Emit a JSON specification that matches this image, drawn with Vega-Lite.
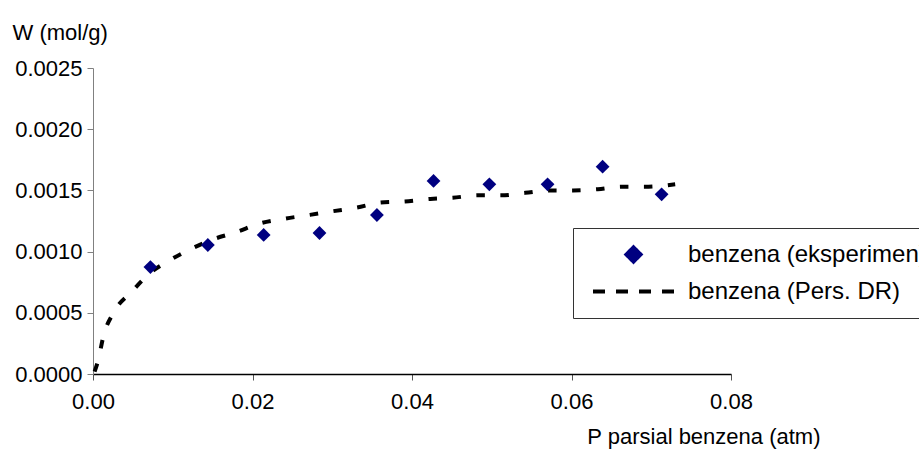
{
  "$schema": "https://vega.github.io/schema/vega-lite/v6.json",
  "width": 638,
  "height": 306,
  "autosize": {"type": "none"},
  "padding": {"left": 93, "top": 68, "right": 188, "bottom": 79},
  "background": "white",
  "config": {
    "view": {"stroke": null},
    "font": "Liberation Sans",
    "axis": {"labelFont": "Liberation Sans", "titleFont": "Liberation Sans", "labelColor": "black", "titleColor": "black", "grid": false, "titleFontWeight": "normal"},
    "legend": {"labelFont": "Liberation Sans"}
  },
  "datasets": {
    "points": [
      {"p": 0.0072, "w": 0.000874, "series": "benzena (eksperimen)"},
      {"p": 0.0144, "w": 0.001054, "series": "benzena (eksperimen)"},
      {"p": 0.0214, "w": 0.001136, "series": "benzena (eksperimen)"},
      {"p": 0.0284, "w": 0.001152, "series": "benzena (eksperimen)"},
      {"p": 0.0356, "w": 0.001299, "series": "benzena (eksperimen)"},
      {"p": 0.0427, "w": 0.001577, "series": "benzena (eksperimen)"},
      {"p": 0.0497, "w": 0.00155, "series": "benzena (eksperimen)"},
      {"p": 0.0570, "w": 0.00155, "series": "benzena (eksperimen)"},
      {"p": 0.0639, "w": 0.001694, "series": "benzena (eksperimen)"},
      {"p": 0.0713, "w": 0.001468, "series": "benzena (eksperimen)"}
    ],
    "curve": [
      {"p": 0.0002, "w": 0.00002, "series": "benzena (Pers. DR)"},
      {"p": 0.00066, "w": 0.000114, "series": "benzena (Pers. DR)"},
      {"p": 0.00129, "w": 0.000305, "series": "benzena (Pers. DR)"},
      {"p": 0.00255, "w": 0.000498, "series": "benzena (Pers. DR)"},
      {"p": 0.00485, "w": 0.000672, "series": "benzena (Pers. DR)"},
      {"p": 0.00715, "w": 0.000825, "series": "benzena (Pers. DR)"},
      {"p": 0.00966, "w": 0.000931, "series": "benzena (Pers. DR)"},
      {"p": 0.01254, "w": 0.00103, "series": "benzena (Pers. DR)"},
      {"p": 0.01505, "w": 0.0011, "series": "benzena (Pers. DR)"},
      {"p": 0.018, "w": 0.00116, "series": "benzena (Pers. DR)"},
      {"p": 0.0209, "w": 0.00123, "series": "benzena (Pers. DR)"},
      {"p": 0.0241, "w": 0.00127, "series": "benzena (Pers. DR)"},
      {"p": 0.0272, "w": 0.0013, "series": "benzena (Pers. DR)"},
      {"p": 0.0301, "w": 0.00133, "series": "benzena (Pers. DR)"},
      {"p": 0.0331, "w": 0.00136, "series": "benzena (Pers. DR)"},
      {"p": 0.036, "w": 0.0014, "series": "benzena (Pers. DR)"},
      {"p": 0.0391, "w": 0.00141, "series": "benzena (Pers. DR)"},
      {"p": 0.0423, "w": 0.00143, "series": "benzena (Pers. DR)"},
      {"p": 0.0451, "w": 0.00144, "series": "benzena (Pers. DR)"},
      {"p": 0.0483, "w": 0.00146, "series": "benzena (Pers. DR)"},
      {"p": 0.0512, "w": 0.00146, "series": "benzena (Pers. DR)"},
      {"p": 0.0542, "w": 0.00148, "series": "benzena (Pers. DR)"},
      {"p": 0.0571, "w": 0.0015, "series": "benzena (Pers. DR)"},
      {"p": 0.0602, "w": 0.0015, "series": "benzena (Pers. DR)"},
      {"p": 0.0633, "w": 0.00151, "series": "benzena (Pers. DR)"},
      {"p": 0.0663, "w": 0.00153, "series": "benzena (Pers. DR)"},
      {"p": 0.0692, "w": 0.00153, "series": "benzena (Pers. DR)"},
      {"p": 0.073, "w": 0.00155, "series": "benzena (Pers. DR)"}
    ]
  },
  "encoding": {
    "x": {
      "field": "p", "type": "quantitative",
      "scale": {"domain": [0, 0.08], "nice": false, "zero": false},
      "axis": {
        "values": [0, 0.02, 0.04, 0.06, 0.08], "format": ".2f",
        "domainColor": "black", "domainWidth": 1.5, "tickColor": "#555555", "tickSize": 6,
        "labelFontSize": 22, "labelPadding": 11, "labelFlush": false,
        "title": "P parsial benzena (atm)", "titleFontSize": 22,
        "titleAlign": "right", "titleAnchor": "start", "titleX": 727, "titleY": 69, "titleBaseline": "alphabetic"
      }
    },
    "y": {
      "field": "w", "type": "quantitative",
      "scale": {"domain": [0, 0.0025], "nice": false},
      "axis": {
        "values": [0, 0.0005, 0.001, 0.0015, 0.002, 0.0025], "format": ".4f",
        "domainColor": "#808080", "tickColor": "#808080", "tickSize": 6,
        "labelFontSize": 22, "labelPadding": 5, "labelFlush": false,
        "title": "W (mol/g)", "titleFontSize": 22, "titleAngle": 0,
        "titleAlign": "left", "titleAnchor": "start", "titleX": -81, "titleY": -29, "titleBaseline": "alphabetic"
      }
    },
    "color": {
      "field": "series", "type": "nominal",
      "scale": {"domain": ["benzena (eksperimen)", "benzena (Pers. DR)"], "range": ["#000080", "#000000"]},
      "legend": {
        "title": null, "orient": "none", "legendX": 480, "legendY": 160,
        "padding": 8, "strokeColor": "#333333", "fillColor": "white",
        "symbolSize": 6561, "symbolStrokeWidth": 4, "clipHeight": 37, "rowPadding": 0,
        "symbolOffset": 10, "labelOffset": 12,
        "labelFontSize": 24, "labelLimit": 0, "labelColor": "black",
        "encode": {
          "symbols": {
            "update": {
              "shape": [{"test": "datum.value === 'benzena (Pers. DR)'", "value": "M-1,0L1,0"}, {"value": "M-0.175,0L0,-0.175L0.175,0L0,0.175Z"}],
              "fill": [{"test": "datum.value === 'benzena (Pers. DR)'", "value": "transparent"}, {"value": "#000080"}],
              "stroke": [{"test": "datum.value === 'benzena (Pers. DR)'", "value": "#000000"}, {"value": "transparent"}],
              "strokeDash": [{"test": "datum.value === 'benzena (Pers. DR)'", "value": [12, 11]}, {"value": [1, 0]}],
              "opacity": {"value": 1}
            }
          }
        }
      }
    }
  },
  "layer": [
    {
      "data": {"name": "curve"},
      "mark": {"type": "line", "strokeWidth": 4, "strokeDash": [8.5, 15.5], "strokeCap": "butt", "interpolate": "monotone"}
    },
    {
      "data": {"name": "points"},
      "mark": {"type": "point", "filled": true, "shape": "diamond", "size": 190, "opacity": 1}
    }
  ]
}
